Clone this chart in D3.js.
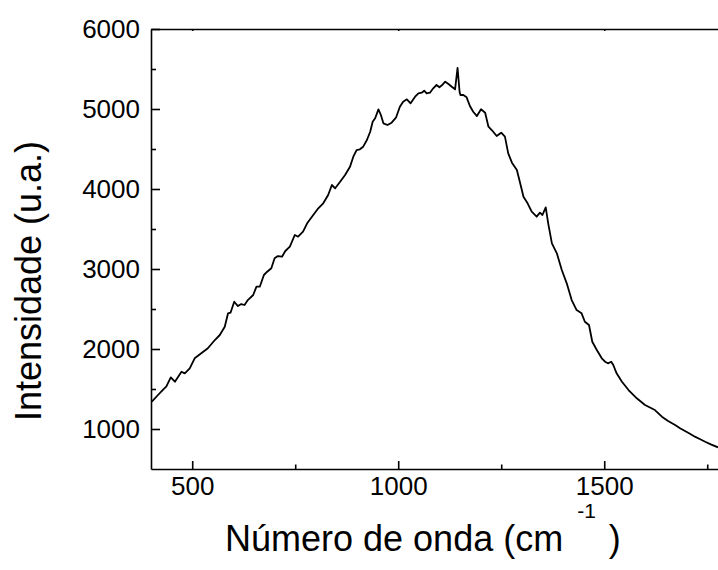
<!DOCTYPE html>
<html>
<head>
<meta charset="utf-8">
<script src="https://cdn.jsdelivr.net/npm/d3@7/dist/d3.min.js"></script>
<style>
  html, body { margin: 0; padding: 0; background: #fff; }
  svg { display: block; font-family: "Liberation Sans", Arial, sans-serif; }
</style>
</head>
<body>
<svg id="chart" width="718" height="570"></svg>
<script>
// Raman spectrum: wavenumber (cm^-1) and intensity (a.u.)
const wavenumber = [
  402, 417, 430, 437, 448, 458, 474, 482, 494, 506, 522, 538, 555, 567, 579,
  587, 593, 602, 611, 619, 627, 635, 648, 656, 664, 674, 682, 692, 700, 708,
  718, 726, 737, 749, 757, 769, 779, 792, 806, 818, 830, 839, 847, 859, 871,
  883, 891, 899, 907, 915, 924, 932, 938, 944, 952, 958, 964, 974, 984, 995,
  1004, 1012, 1021, 1030, 1041, 1049, 1057, 1063, 1069, 1077, 1085, 1093, 1100, 1106, 1114,
  1122, 1130, 1138, 1144, 1149, 1151, 1158, 1166, 1174, 1182, 1191, 1201, 1211, 1219, 1227,
  1239, 1250, 1259, 1267, 1276, 1288, 1296, 1304, 1314, 1324, 1336, 1344, 1350, 1358, 1364,
  1373, 1385, 1397, 1409, 1421, 1433, 1445, 1453, 1463, 1471, 1482, 1494, 1502, 1509, 1517,
  1522, 1530, 1543, 1559, 1579, 1599, 1611, 1623, 1640, 1655, 1672, 1684, 1696, 1708, 1720,
  1733, 1745, 1760, 1776
];
const intensity = [
  1341, 1425, 1496, 1529, 1646, 1591, 1716, 1696, 1759, 1884, 1946, 2009, 2112, 2175, 2279,
  2446, 2454, 2591, 2537, 2562, 2550, 2612, 2675, 2779, 2779, 2925, 2966, 3009, 3134, 3162,
  3154, 3225, 3279, 3425, 3404, 3466, 3571, 3662, 3759, 3821, 3925, 4050, 4009, 4091, 4175,
  4279, 4404, 4487, 4496, 4529, 4612, 4716, 4841, 4884, 4996, 4925, 4821, 4800, 4829, 4896,
  5029, 5091, 5121, 5071, 5154, 5196, 5204, 5229, 5196, 5204, 5259, 5300, 5271, 5296, 5341,
  5312, 5279, 5246, 5515, 5212, 5175, 5175, 5146, 5037, 4966, 4912, 4996, 4954, 4779, 4737,
  4662, 4704, 4654, 4446, 4329, 4237, 4071, 3904, 3821, 3716, 3654, 3704, 3675, 3771, 3571,
  3321, 3196, 2987, 2821, 2612, 2487, 2446, 2341, 2300, 2091, 1987, 1884, 1841, 1821, 1841,
  1800, 1696, 1591, 1487, 1384, 1300, 1268, 1237, 1154, 1100, 1050, 1010, 975, 940, 904,
  872, 841, 805, 771
];

const xMajorTicks = [500, 1000, 1500];
const xMinorTicks = [750, 1250, 1750];
const yMajorTicks = [1000, 2000, 3000, 4000, 5000, 6000];
const yMinorTicks = [1500, 2500, 3500, 4500, 5500];

const xTitle = "Número de onda (cm";
const xTitleSup = "-1";
const xTitleEnd = ")";
const yTitle = "Intensidade (u.a.)";

const svg = d3.select("#chart");
const margin = { left: 151, top: 29, right: 0, bottom: 101 };
const plotW = 568.6, plotH = 440;

const x = d3.scaleLinear().domain([400, 1780]).range([margin.left, margin.left + plotW]);
const y = d3.scaleLinear().domain([500, 6000]).range([margin.top + plotH, margin.top]);

const axisStroke = 1.6;
const tickFont = "26px";

function styleAxis(g) {
  g.selectAll("path.domain").attr("stroke", "#000").attr("stroke-width", axisStroke);
  g.selectAll(".tick line").attr("stroke", "#000").attr("stroke-width", axisStroke);
  g.selectAll(".tick text").attr("fill", "#000").style("font-size", tickFont)
    .style("font-family", '"Liberation Sans", Arial, sans-serif');
}

// bottom axis: major ticks with labels, then minor ticks
const gx = svg.append("g").attr("transform", `translate(0,${y(500)})`)
  .call(d3.axisBottom(x).tickValues(xMajorTicks).tickSizeInner(-8).tickSizeOuter(0).tickPadding(8).tickFormat(d3.format("d")));
styleAxis(gx);
gx.selectAll(".tick text").attr("dy", "0.71em");
svg.append("g").attr("transform", `translate(0,${y(500)})`)
  .call(d3.axisBottom(x).tickValues(xMinorTicks).tickSizeInner(-4.5).tickSizeOuter(0).tickFormat(""))
  .call(g => { g.select("path.domain").remove(); styleAxis(g); });

// top axis
const gxt = svg.append("g").attr("transform", `translate(0,${y(6000)})`)
  .call(d3.axisTop(x).tickValues(xMajorTicks).tickSizeInner(-2).tickSizeOuter(0).tickFormat(""));
styleAxis(gxt);

// left axis
const gy = svg.append("g").attr("transform", `translate(${x(400)},0)`)
  .call(d3.axisLeft(y).tickValues(yMajorTicks).tickSizeInner(-9).tickSizeOuter(0).tickPadding(11).tickFormat(d3.format("d")));
styleAxis(gy);
svg.append("g").attr("transform", `translate(${x(400)},0)`)
  .call(d3.axisLeft(y).tickValues(yMinorTicks).tickSizeInner(-5).tickSizeOuter(0).tickFormat(""))
  .call(g => { g.select("path.domain").remove(); styleAxis(g); });

// spectrum line
svg.append("defs").append("clipPath").attr("id", "plotclip")
  .append("rect").attr("x", margin.left).attr("y", margin.top).attr("width", plotW).attr("height", plotH);

const data = wavenumber.map((w, i) => ({ w, v: intensity[i] }));
svg.append("g").attr("clip-path", "url(#plotclip)")
  .append("path")
  .datum(data)
  .attr("fill", "none")
  .attr("stroke", "#000")
  .attr("stroke-width", 1.8)
  .attr("stroke-linejoin", "round")
  .attr("d", d3.line().x(d => x(d.w)).y(d => y(d.v)));

// axis titles
const xt = svg.append("text")
  .attr("x", 225).attr("y", 551)
  .attr("fill", "#000")
  .style("font-size", "36px");
xt.append("tspan").text(xTitle);
xt.append("tspan").attr("dx", 14).attr("dy", -33).style("font-size", "21px").text(xTitleSup);
xt.append("tspan").attr("dx", 13).attr("dy", 33).text(xTitleEnd);

svg.append("text")
  .attr("transform", `translate(41,${margin.top + plotH / 2 + 32}) rotate(-90)`)
  .attr("text-anchor", "middle")
  .attr("fill", "#000")
  .style("font-size", "36px")
  .text(yTitle);
</script>
</body>
</html>
